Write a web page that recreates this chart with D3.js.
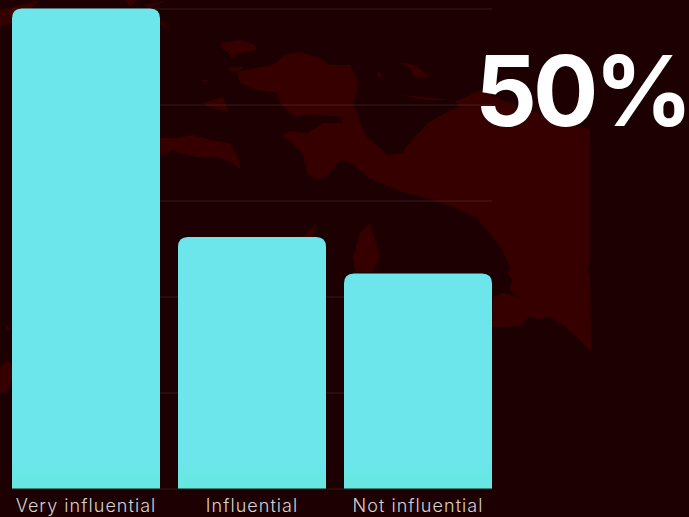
<!DOCTYPE html>
<html>
<head>
<meta charset="utf-8">
<script src="https://cdnjs.cloudflare.com/ajax/libs/d3/7.8.5/d3.min.js"></script>
<style>
  html, body { margin: 0; padding: 0; background: #1c0002; overflow: hidden; }
  svg { display: block; }
  .x.axis text { font-family: Inter, sans-serif; font-weight: 300; font-size: 18px; letter-spacing: 1.05px; fill: #d6d3d3; }
  .y.axis line { stroke: #fff; stroke-opacity: 0.1; }
</style>
</head>
<body>
<svg></svg>
<script>
// the chart data
var categories = ["Very influential", "Influential", "Not influential"];
var values = [50, 26.2, 22.4];
var y_ticks = [0, 10, 20, 30, 40, 50];
var big_label = "50%";

// map in the background (not data)
var map_shapes = [
  // new guinea
  [[255,68],[273,65],[285,55],[300,52],[317,57],[330,65],[350,65],[357,80],[357,90],[353,103],[360,123],[367,137],[388,155],[402,153],[412,140],[428,123],[445,113],[460,107],[455,102],[480,90],[502,100],[532,110],[558,122],[590,129],[590,263],[587,270],[590,277],[591,352],[573,333],[560,323],[550,317],[540,319],[528,317],[520,326],[503,327],[492,327],[493,297],[503,293],[520,297],[510,290],[512,280],[508,273],[510,267],[502,250],[490,233],[477,218],[453,207],[433,200],[397,190],[373,180],[350,163],[340,160],[330,173],[317,180],[307,173],[303,153],[282,135],[290,131],[307,133],[323,123],[342,123],[343,117],[320,115],[293,116],[280,103],[277,93],[257,90],[240,83],[237,72]],
  // seram
  [[160,138],[177,138],[193,135],[210,140],[230,143],[238,157],[241,170],[232,163],[217,157],[197,157],[180,153],[173,150],[160,157]],
  // smaller islands
  [[222,43],[240,40],[255,45],[257,50],[240,53],[232,58],[228,53],[222,48]],
  [[203,103],[223,97],[228,112],[215,109]],
  [[228,68],[242,67],[242,70],[230,71]],
  [[202,80],[210,80],[205,82]],
  [[398,62],[415,65],[430,77],[415,78],[410,68]],
  [[378,72],[382,74],[380,78],[377,76]],
  [[400,95],[425,97],[448,100],[425,100]],
  [[370,223],[375,240],[380,257],[372,272],[355,272],[353,257],[360,233]],
  [[0,10],[40,0],[20,20],[0,27]],
  [[125,0],[137,0],[130,7]],
  [[143,5],[167,0],[150,8]],
  [[160,20],[172,30],[160,25]],
  [[0,367],[7,360],[12,365],[12,380],[7,392],[0,393]],
  [[5,325],[10,328],[8,332]],
  [[303,237],[318,222],[312,237]]
];

var total_w = 689, total_h = 517;

// set the ranges
var x = d3.scaleBand()
          .domain(categories)
          .range([12, 492])
          .paddingInner(0.1084);
var y = d3.scaleLinear()
          .domain([0, 50])
          .range([488.5, 8.5]);

var x_axis = d3.axisBottom().scale(x).tickSize(0).tickPadding(11);
var y_axis = d3.axisLeft().scale(y).tickValues(y_ticks).tickSize(-480).tickFormat("");

var svg = d3.select("svg")
    .attr("width", total_w)
    .attr("height", total_h);

var defs = svg.append("defs");
var grad = defs.append("linearGradient")
    .attr("id", "barfill")
    .attr("gradientUnits", "userSpaceOnUse")
    .attr("x1", 0).attr("x2", 0)
    .attr("y1", y(0) - 24).attr("y2", y(0));
grad.append("stop").attr("offset", "0%").attr("stop-color", "#6ce6ea");
grad.append("stop").attr("offset", "100%").attr("stop-color", "#66e8de");

// background
svg.append("rect")
    .attr("width", total_w)
    .attr("height", total_h)
    .attr("fill", "#1c0002");

var line = d3.line().curve(d3.curveLinearClosed);

svg.selectAll(".land")
    .data(map_shapes)
  .enter().append("path")
    .attr("class", "land")
    .attr("d", line)
    .attr("fill", "#360001");

// grid lines
svg.append("g")
    .attr("class", "y axis")
    .attr("transform", "translate(12,0)")
    .call(y_axis)
    .call(function(g) { g.select(".domain").remove(); });

//draws the bars, rounded at the top only
function barPath(d, i) {
  var x0 = x(categories[i]), x1 = x0 + x.bandwidth();
  var top = y(d), bottom = y(0), r = 10;
  return "M" + x0 + "," + bottom +
         "V" + (top + r) +
         "Q" + x0 + "," + top + " " + (x0 + r) + "," + top +
         "H" + (x1 - r) +
         "Q" + x1 + "," + top + " " + x1 + "," + (top + r) +
         "V" + bottom + "Z";
}

svg.selectAll(".bar")
    .data(values)
  .enter().append("path")
    .attr("class", "bar")
    .attr("d", barPath)
    .attr("fill", "url(#barfill)");

// add the x Axis
svg.append("g")
    .attr("class", "x axis")
    .attr("transform", "translate(0," + y(0) + ")")
    .call(x_axis)
    .call(function(g) { g.select(".domain").remove(); });

svg.append("text")
    .attr("x", 475)
    .attr("y", 126)
    .attr("font-family", "Inter, sans-serif")
    .attr("font-weight", "bold")
    .attr("font-size", 97)
    .attr("letter-spacing", -4)
    .attr("fill", "#fff")
    .text(big_label);
</script>
</body>
</html>
